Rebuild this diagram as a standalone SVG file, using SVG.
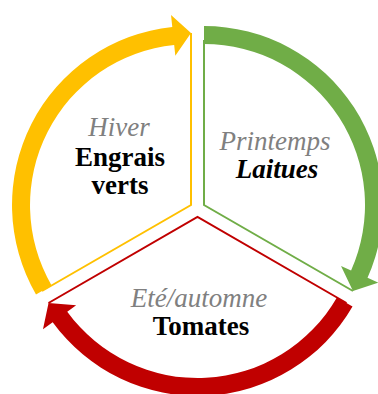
<svg xmlns="http://www.w3.org/2000/svg" width="378" height="394" viewBox="0 0 378 394">
<style>
text{font-family:'Liberation Serif','Times New Roman',serif;font-size:27px;text-anchor:middle}
.season{font-style:italic;fill:#808080}
.crop{font-weight:bold;fill:#000}
.edge{fill:none;stroke-width:2;stroke-linejoin:miter}
</style>
<rect width="378" height="394" fill="#fff"/>
<g id="hiver">
<path class="edge" stroke="#FFC000" d="M191,33 L191,205 L42,291"/>
<text class="season" x="119" y="136">Hiver</text>
<text class="crop" x="120" y="166">Engrais</text>
<text class="crop" x="120" y="194">verts</text>
</g>
<g id="printemps">
<path class="edge" stroke="#70AD47" d="M204,40 L204,205 L353,291"/>
<text class="season" x="275" y="150">Printemps</text>
<text class="crop" x="277" y="178" font-style="italic">Laitues</text>
</g>
<g id="ete">
<path class="edge" stroke="#C00000" d="M346.5,303 L197.5,217 L48.5,303"/>
<text class="season" x="199" y="307">Eté/automne</text>
<text class="crop" x="201" y="335">Tomates</text>
</g>
<g id="connectors">
<path fill="#FFC000" d="M36,294.5 A179,179 0 0 1 172.29,26.98 L171.03,15.05 L191,33 L175.32,55.82 L174.17,44.88 A161,161 0 0 0 51.6,285.5 Z"/>
<path fill="#70AD47" d="M204,26 A179,179 0 0 1 367.52,277.81 L378.49,282.69 L352.96,291 L341.03,266.01 L351.08,270.49 A161,161 0 0 0 204,44 Z"/>
<path fill="#C00000" d="M352.52,306.5 A179,179 0 0 1 52.69,322.21 L42.98,329.27 L48.54,303 L76.15,305.17 L67.25,311.63 A161,161 0 0 0 336.93,297.5 Z"/>
</g>
</svg>
